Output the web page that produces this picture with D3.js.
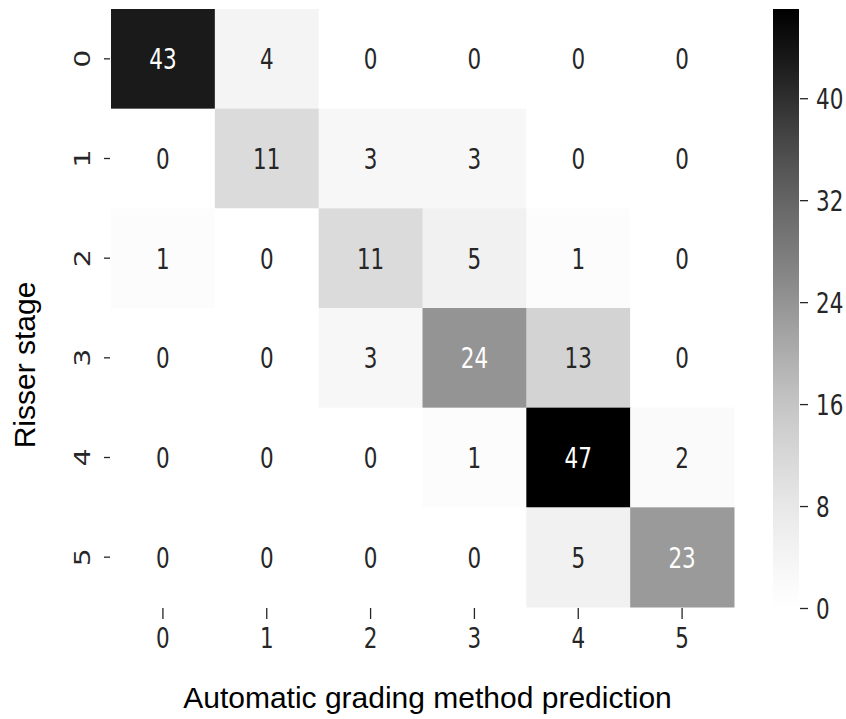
<!DOCTYPE html>
<html>
<head>
<meta charset="utf-8">
<script src="https://cdn.jsdelivr.net/npm/d3@7"></script>
<style>
  html, body { margin: 0; padding: 0; background: #fff; }
  svg { display: block; }
</style>
</head>
<body>
<svg id="chart" width="846" height="719"></svg>
<script>
// Confusion matrix: rows = true Risser stage, columns = predicted stage
const stages = ["0", "1", "2", "3", "4", "5"];
const counts = [
  [43, 4, 0, 0, 0, 0],
  [0, 11, 3, 3, 0, 0],
  [1, 0, 11, 5, 1, 0],
  [0, 0, 3, 24, 13, 0],
  [0, 0, 0, 1, 47, 2],
  [0, 0, 0, 0, 5, 23]
];
const colorbarTicks = [0, 8, 16, 24, 32, 40];
const xTitle = "Automatic grading method prediction";
const yTitle = "Risser stage";

const svg = d3.select("#chart");
const W = 846, H = 719;
const grid = { left: 111, right: 734, top: 9, bottom: 607 };
const cbar = { left: 773, right: 799, top: 9, bottom: 607 };
const stretch = 1.32;          // vertical stretch of the figure's text
const numFont = "'DejaVu Sans', sans-serif";
const numSize = 21.5;
const ink = "#262626";

const vmax = d3.max(counts.flat());
const color = d3.scaleSequential(d3.interpolateGreys).domain([0, vmax]);

const x = d3.scaleBand().domain(stages).range([grid.left, grid.right]);
const y = d3.scaleBand().domain(stages).range([grid.top, grid.bottom]);

// cells
const cells = [];
counts.forEach((row, i) => row.forEach((v, j) => cells.push({ r: stages[i], c: stages[j], v })));

svg.append("g").selectAll("rect").data(cells).join("rect")
  .attr("x", d => x(d.c))
  .attr("y", d => y(d.r))
  .attr("width", x.bandwidth() + 0.5)
  .attr("height", y.bandwidth() + 0.5)
  .attr("fill", d => color(d.v));

// annotations: light text on dark cells
function luminance(c) {
  const rgb = d3.rgb(c);
  const f = v => { v /= 255; return v <= 0.03928 ? v / 12.92 : Math.pow((v + 0.055) / 1.055, 2.4); };
  return 0.2126 * f(rgb.r) + 0.7152 * f(rgb.g) + 0.0722 * f(rgb.b);
}
svg.append("g").selectAll("text").data(cells).join("text")
  .attr("transform", d => `translate(${x(d.c) + x.bandwidth() / 2},${y(d.r) + y.bandwidth() / 2 + 10.5}) scale(1,${stretch})`)
  .attr("text-anchor", "middle")
  .attr("font-family", numFont)
  .attr("font-size", numSize)
  .attr("fill", d => luminance(color(d.v)) > 0.408 ? ink : "#ffffff")
  .text(d => d.v);

// x axis
const xAxis = svg.append("g")
  .attr("transform", `translate(0,${grid.bottom + 1})`)
  .call(d3.axisBottom(x).tickSize(11).tickPadding(0));
xAxis.select(".domain").remove();
xAxis.selectAll(".tick line").attr("stroke", ink).attr("stroke-width", 1.3);
xAxis.selectAll(".tick text")
  .attr("y", null).attr("dy", null)
  .attr("transform", `translate(0,${648 - grid.bottom - 1}) scale(1,${stretch})`)
  .attr("font-family", numFont)
  .attr("font-size", numSize)
  .attr("fill", ink);

// y axis
const yAxis = svg.append("g")
  .attr("transform", `translate(${grid.left - 1},0)`)
  .call(d3.axisLeft(y).tickSize(6).tickPadding(0));
yAxis.select(".domain").remove();
yAxis.selectAll(".tick line").attr("stroke", ink).attr("stroke-width", 1.3);
yAxis.selectAll(".tick text")
  .attr("x", null).attr("dy", null)
  .attr("text-anchor", "middle")
  .attr("transform", `translate(${90 - grid.left + 1},0) scale(1,${stretch}) rotate(-90)`)
  .attr("font-family", numFont)
  .attr("font-size", numSize)
  .attr("fill", ink);

// colorbar
const cy = d3.scaleLinear().domain([0, vmax]).range([cbar.bottom + 1, cbar.top]);
const defs = svg.append("defs");
const grad = defs.append("linearGradient")
  .attr("id", "cbarGrad")
  .attr("x1", 0).attr("y1", 1).attr("x2", 0).attr("y2", 0);
d3.range(0, 1.0001, 0.05).forEach(t => {
  grad.append("stop").attr("offset", t).attr("stop-color", color(t * vmax));
});
svg.append("rect")
  .attr("x", cbar.left).attr("y", cy(vmax))
  .attr("width", cbar.right - cbar.left)
  .attr("height", cy(0) - cy(vmax))
  .attr("fill", "url(#cbarGrad)");

const cAxis = svg.append("g")
  .attr("transform", `translate(${cbar.right + 1},0)`)
  .call(d3.axisRight(cy).tickValues(colorbarTicks).tickSize(8).tickPadding(0));
cAxis.select(".domain").remove();
cAxis.selectAll(".tick line").attr("stroke", ink).attr("stroke-width", 1.3);
cAxis.selectAll(".tick text")
  .attr("x", null).attr("dy", null)
  .attr("text-anchor", "start")
  .attr("transform", `translate(16,10.5) scale(1,${stretch})`)
  .attr("font-family", numFont)
  .attr("font-size", numSize)
  .attr("fill", ink);

// axis titles
svg.append("text")
  .attr("x", 427.5).attr("y", 708)
  .attr("text-anchor", "middle")
  .attr("font-family", "'Liberation Sans', Arial, sans-serif")
  .attr("font-size", 30)
  .attr("fill", "#000")
  .text(xTitle);

svg.append("text")
  .attr("transform", "translate(35,365) rotate(-90)")
  .attr("text-anchor", "middle")
  .attr("font-family", "'Liberation Sans', Arial, sans-serif")
  .attr("font-size", 30)
  .attr("fill", "#000")
  .text(yTitle);
</script>
</body>
</html>
